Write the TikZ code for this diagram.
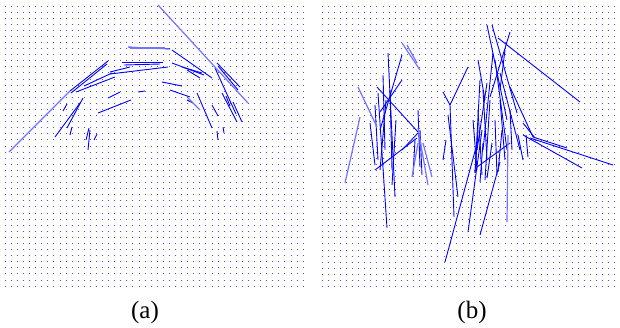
\documentclass[tikz,border=0pt]{standalone}
\usepackage{fontspec}
\setmainfont{Liberation Serif}
\begin{document}
\begin{tikzpicture}[x=1pt,y=-1pt,
  seg/.style={draw=blue, line width=0.9pt},
  segl/.style={draw=blue!55, line width=1.2pt},
  dotc/.style={fill=blue!70}]
\useasboundingbox (0,0) rectangle (620,327);
\fill[white] (0,0) rectangle (620,327);
% dot grids
\foreach \i in {0,...,49} \foreach \j in {0,...,46}
  \fill[dotc] ({4.8+\i*6.08},{5.5+\j*6.09}) rectangle ++(1,1);
\foreach \i in {0,...,48} \foreach \j in {0,...,46}
  \fill[dotc] ({321.5+\i*6.1},{5.5+\j*6.1}) rectangle ++(1,1);
% panel (a) segments
\foreach \ax/\ay/\bx/\by in {70/91/108/61, 71/93/107/64, 76/92/115/77, 84/86/112/73,
  110/72/130/67, 110/74/168/67, 122/62/163/62, 128/47/170/49, 172/50/212/78,
  172/63/204/75, 182/67/202/73, 187/70/200/78, 162/82/182/86, 170/90/190/97,
  187/100/193/103, 217/63/240/87, 215/68/236/114, 222/93/237/122, 233/102/242/122,
  226/96/230/106, 212/105/218/116, 197/93/212/128, 217/131/218/140, 223/127/224/133,
  63/111/67/104, 55/137/80/103, 67/128/83/98, 70/135/72/127, 88/150/90/130,
  86/140/89/128, 94/140/97/134, 108/98/120/92, 98/113/131/100, 138/92/145/91,
  124/65/160/64, 218/66/238/90}
  \draw[seg] (\ax,\ay) -- (\bx,\by);
\foreach \ax/\ay/\bx/\by in {9/152/70/91, 158/5/248/103, 130/48/165/48, 188/98/200/110}
  \draw[segl] (\ax,\ay) -- (\bx,\by);
% panel (b) segments
\foreach \ax/\ay/\bx/\by in {388/53/395/197, 402/55/380/130,
  377/87/418/132, 402/80/380/112, 378/93/387/228, 375/105/378/160,
  370/123/375/165, 418/110/420/167, 375/170/417/138,
  383/75/385/150, 390/90/392/170, 386/100/380/170, 396/120/392/185,
  415/140/413/175, 420/130/422/175,
  443/92/450/105, 450/105/468/67, 450/105/454/217, 448/115/458/197,
  443/160/446/140, 445/262/478/140, 468/232/482/130, 480/235/500/162,
  477/167/510/143, 487/25/507/120, 492/25/517/113, 510/32/490/97,
  498/38/580/102, 487/83/477/150, 480/80/475/173, 493/53/483/150,
  495/60/507/150, 500/73/520/150, 510/87/533/137, 510/110/512/150,
  523/123/535/138, 533/137/567/148, 523/135/582/168, 530/138/613/165,
  523/160/518/135, 528/157/526/135, 498/172/502/130, 487/178/492/143,
  480/182/483/143, 475/173/478/130, 485/100/478/60, 402/150/418/133,
  478/110/482/175, 483/90/487/160, 490/100/485/180, 495/120/497/175,
  500/100/505/160, 473/120/477/170, 505/50/500/90}
  \draw[seg] (\ax,\ay) -- (\bx,\by);
\foreach \ax/\ay/\bx/\by in {402/43/420/70, 407/45/417/63, 358/87/377/127,
  360/117/345/183, 412/177/418/143, 432/177/423/143, 507/222/508/135,
  418/128/428/185}
  \draw[segl] (\ax,\ay) -- (\bx,\by);
% labels
\node[font=\fontsize{25}{28}\selectfont, inner sep=0pt] (la) at (145,312) {(a)};
\node[font=\fontsize{25}{28}\selectfont, inner sep=0pt] (lb) at (472,312) {(b)};
\end{tikzpicture}
\end{document}
